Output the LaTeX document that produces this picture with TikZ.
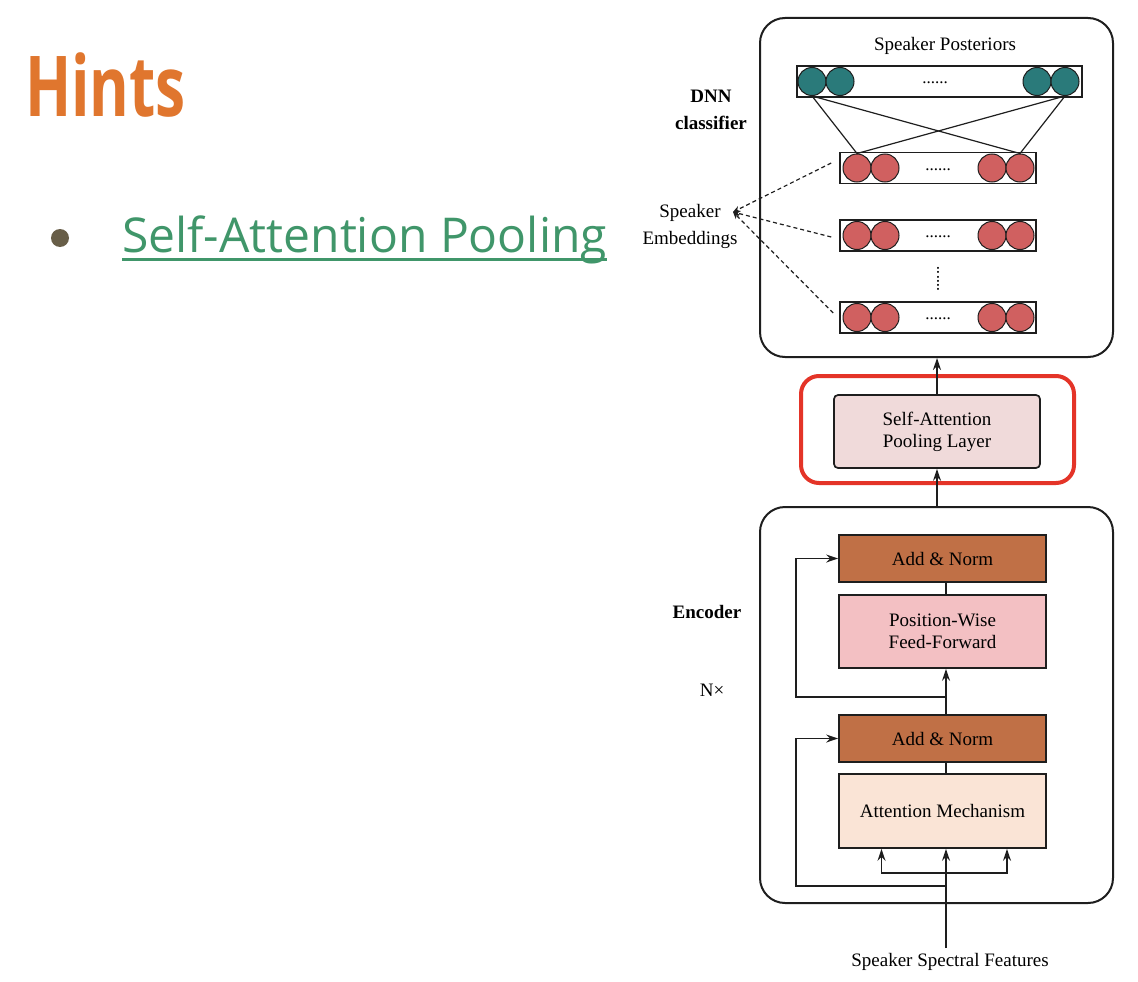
\documentclass[tikz,border=0pt]{standalone}
\usepackage{fontspec}
\setmainfont{Liberation Serif}
\newfontfamily\opensans{Open Sans}
\usetikzlibrary{arrows.meta}
\definecolor{hintorange}{RGB}{224,118,46}
\definecolor{linkgreen}{RGB}{64,150,106}
\definecolor{bulletc}{RGB}{104,94,72}
\definecolor{tealc}{RGB}{42,122,122}
\definecolor{redc}{RGB}{208,96,96}
\definecolor{poolfill}{RGB}{240,218,218}
\definecolor{addfill}{RGB}{192,112,70}
\definecolor{ffwfill}{RGB}{243,192,195}
\definecolor{attfill}{RGB}{250,228,214}
\definecolor{hlred}{RGB}{228,52,40}
\definecolor{linec}{RGB}{30,30,30}
\tikzset{
  dfont/.style={font=\fontsize{19}{22}\selectfont},
  bigbox/.style={draw=linec, line width=2pt, rounded corners=25pt, inner sep=0},
  bar/.style={draw=linec, line width=1.6pt, fill=white, inner sep=0},
  tealdot/.style={circle, draw=linec, line width=1pt, fill=tealc, minimum size=28pt, inner sep=0},
  reddot/.style={circle, draw=linec, line width=1pt, fill=redc, minimum size=28pt, inner sep=0},
  blk/.style={draw=linec, line width=1.7pt, inner sep=0, minimum width=207pt, dfont, align=center},
  arr/.style={draw=linec, line width=1.6pt, -{Stealth[length=12pt,width=8pt]}},
  ln/.style={draw=linec, line width=1.6pt},
  dasharr/.style={draw=linec, line width=1.2pt, dash pattern=on 4pt off 3pt, -{Stealth[length=7pt,width=6pt]}},
  lbl/.style={dfont, inner sep=0, align=center},
  dots/.style={inner sep=0, font=\fontsize{17}{17}\selectfont}
}
\begin{document}
\begin{tikzpicture}[x=1pt,y=-1pt]
\fill[white] (0,0) rectangle (1138,982);
\useasboundingbox (0,0) rectangle (1138,982);

% left text
\node[anchor=base west, inner sep=0, text=hintorange, font=\opensans\bfseries\fontsize{84}{84}\selectfont] (hints) at (25,117) {\scalebox{0.72}[1]{Hints}};
\node[circle, fill=bulletc, minimum size=18pt, inner sep=0] (bullet) at (60,238) {};
\node[anchor=base west, inner sep=0, text=linkgreen, font=\opensans\fontsize{48}{48}\selectfont] (link) at (122,252) {Self-Attention Pooling};
\draw[linkgreen, line width=3pt] ([yshift=-7pt]link.base west) -- ([yshift=-7pt]link.base east);

% DNN classifier box
\node[bigbox, minimum width=353pt, minimum height=339pt] (dnn) at (936.5,187.5) {};
\node[lbl] (posttxt) at (945,46) {Speaker Posteriors};
\node[bar, minimum width=285pt, minimum height=31pt] (post) at (939.5,81.5) {};
\node[tealdot] (t1) at (812,81.5) {};
\node[tealdot] (t2) at (840,81.5) {};
\node[tealdot] (t3) at (1037,81.5) {};
\node[tealdot] (t4) at (1065,81.5) {};
\node[dots, anchor=base] (pd) at (935,84) {......};

\foreach \n/\y in {1/168,2/235.5,3/317.5}{
  \node[bar, minimum width=196pt, minimum height=31pt] (rb\n) at (938,\y) {};
  \node[reddot] (r\n a) at (857,\y) {};
  \node[reddot] (r\n b) at (885,\y) {};
  \node[reddot] (r\n c) at (992,\y) {};
  \node[reddot] (r\n d) at (1020,\y) {};
  \node[dots, anchor=base] (rd\n) at (938,\y+2) {......};
}
\node[dots, rotate=90] (vd) at (938,279) {......};

\draw[ln, line width=1.2pt] (t1.south) -- (r1a.north);
\draw[ln, line width=1.2pt] (t1.south) -- (r1d.north);
\draw[ln, line width=1.2pt] (t4.south) -- (r1a.north);
\draw[ln, line width=1.2pt] (t4.south) -- (r1d.north);

\node[lbl, font=\bfseries\fontsize{19}{27}\selectfont] (dnntxt) at (711,110) {DNN\\classifier};
\node[lbl, font=\fontsize{19}{27}\selectfont] (embtxt) at (690,226) {Speaker\\Embeddings};
\coordinate (tip) at (733,212);
\draw[dasharr] ([xshift=-8pt,yshift=5pt]rb1.west) -- (tip);
\draw[dasharr] ([xshift=-8pt,yshift=-1.5pt]rb2.west) -- (tip);
\draw[dasharr] ([xshift=-6pt,yshift=4.5pt]rb3.west) -- (tip);

% pooling
\node[blk, fill=poolfill, rounded corners=4pt, minimum width=206pt, minimum height=73pt] (pool) at (937,431.5) {Self-Attention\\Pooling Layer};
\node[draw=hlred, line width=4pt, rounded corners=18pt, minimum width=273pt, minimum height=107pt, inner sep=0] (hl) at (937.5,429.5) {};

% encoder
\node[bigbox, minimum width=353pt, minimum height=396pt] (enc) at (936.5,705) {};
\node[blk, fill=addfill, minimum height=47pt] (an1) at (942.5,558.5) {Add \& Norm};
\node[blk, fill=ffwfill, minimum height=73pt] (ffw) at (942.5,631.5) {Position-Wise\\Feed-Forward};
\node[blk, fill=addfill, minimum height=47pt] (an2) at (942.5,738.5) {Add \& Norm};
\node[blk, fill=attfill, minimum height=74pt] (att) at (942.5,811) {Attention Mechanism};
\node[lbl, font=\bfseries\fontsize{19}{22}\selectfont] (enctxt) at (707,612) {Encoder};
\node[lbl] (nx) at (712,690) {N×};
\node[lbl] (feat) at (950,962) {Speaker Spectral Features};

\draw[arr] (pool.south |- enc.north) -- (pool.south);
\draw[arr] (pool.north) -- (pool.north |- dnn.south);

\coordinate (in) at (946,948);
\coordinate (br) at (946,873);
\coordinate (r2a) at (946,886);
\coordinate (r1a) at (946,697);
\draw[arr] (in) -- (in |- att.south);
\draw[arr] (br) -| ([xshift=-61pt]att.south);
\draw[arr] (br) -| ([xshift=64.5pt]att.south);
\draw[arr] (r2a) -| ([xshift=-42pt]an2.west) -- (an2.west);
\draw[ln] (in |- att.north) -- (in |- an2.south);
\draw[arr] (in |- an2.north) -- (in |- ffw.south);
\draw[arr] (r1a) -| ([xshift=-42pt]an1.west) -- (an1.west);
\draw[ln] (in |- ffw.north) -- (in |- an1.south);
\end{tikzpicture}
\end{document}
